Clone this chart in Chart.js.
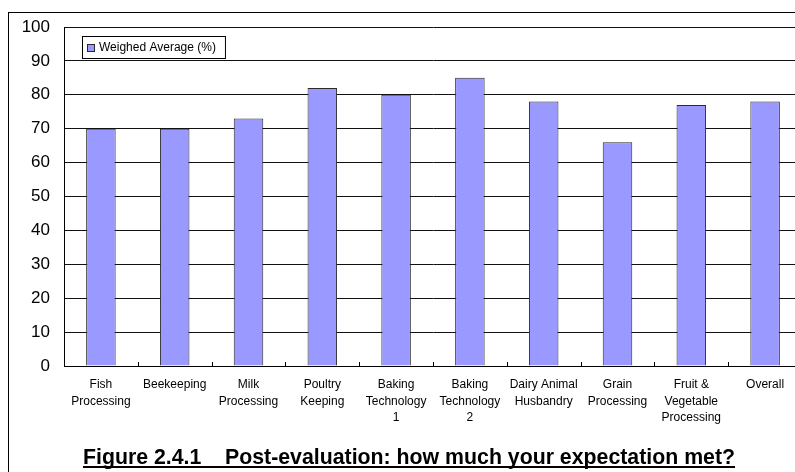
<!DOCTYPE html>
<html>
<head>
<meta charset="utf-8">
<script src="https://cdn.jsdelivr.net/npm/chart.js@4/dist/chart.umd.min.js"></script>
<style>
  html, body { margin: 0; padding: 0; background: #fff; overflow: hidden; }
  #page { position: relative; width: 795px; height: 472px; overflow: hidden; }
  #frame { position: absolute; left: 8px; top: 12px; width: 820px; height: 500px;
           border: 1px solid #000; box-sizing: border-box; }
  #wrap { position: absolute; left: 0; top: 0; width: 810px; height: 472px; }
</style>
</head>
<body>
<div id="page">
  <div id="frame"></div>
  <div id="wrap"><canvas id="c" width="810" height="472"></canvas></div>
</div>
<script>
// Courses evaluated and their weighed average score (%)
const categories = [
  ['Fish', 'Processing'],
  ['Beekeeping'],
  ['Milk', 'Processing'],
  ['Poultry', 'Keeping'],
  ['Baking', 'Technology', '1'],
  ['Baking', 'Technology', '2'],
  ['Dairy Animal', 'Husbandry'],
  ['Grain', 'Processing'],
  ['Fruit &', 'Vegetable', 'Processing'],
  ['Overall']
];
const weighedAverage = [70, 70, 73, 82, 80, 85, 78, 66, 77, 78];
const seriesLabel = 'Weighed Average (%)';
const yTicks = [0, 10, 20, 30, 40, 50, 60, 70, 80, 90, 100];
const figureTitle = 'Figure 2.4.1    Post-evaluation: how much your expectation met?';

const FONT = '"Liberation Sans", Arial, sans-serif';

// Short tick marks on the category axis, pointing up into the plot
const innerTicks = {
  id: 'innerTicks',
  afterDatasetsDraw(chart) {
    const x = chart.scales.x, a = chart.chartArea, ctx = chart.ctx;
    ctx.save();
    ctx.strokeStyle = '#000';
    ctx.lineWidth = 1;
    for (let i = 0; i <= categories.length; i++) {
      const px = Math.round(x.getPixelForValue(i - 0.5)) + 0.5;
      ctx.beginPath();
      ctx.moveTo(px, a.bottom - 4);
      ctx.lineTo(px, a.bottom);
      ctx.stroke();
    }
    ctx.restore();
  }
};

// Boxed legend inside the top-left of the plot
const boxLegend = {
  id: 'boxLegend',
  afterDraw(chart) {
    const ctx = chart.ctx, ds = chart.data.datasets[0];
    const a = chart.chartArea;
    const bx = a.left + 18, by = a.top + 9;
    ctx.save();
    ctx.font = '12px ' + FONT;
    const tw = ctx.measureText(ds.label).width;
    const bw = tw + 26, bh = 22;
    ctx.fillStyle = '#fff';
    ctx.fillRect(bx, by, bw, bh);
    ctx.strokeStyle = '#000';
    ctx.lineWidth = 1;
    ctx.strokeRect(bx + 0.5, by + 0.5, bw, bh);
    ctx.fillStyle = ds.backgroundColor;
    ctx.fillRect(bx + 5, by + 8, 7, 7);
    ctx.strokeStyle = ds.borderColor;
    ctx.strokeRect(bx + 5.5, by + 8.5, 7, 7);
    ctx.fillStyle = '#000';
    ctx.textBaseline = 'middle';
    ctx.fillText(ds.label, bx + 17, by + 12);
    ctx.restore();
  }
};

// Underlined figure caption beneath the axis labels
const caption = {
  id: 'caption',
  afterDraw(chart) {
    const ctx = chart.ctx;
    ctx.save();
    ctx.font = 'bold 21.3px ' + FONT;
    ctx.fillStyle = '#000';
    ctx.textBaseline = 'alphabetic';
    const w = ctx.measureText(figureTitle).width;
    const cx = 409, base = 464;
    const x0 = cx - w / 2;
    ctx.fillText(figureTitle, x0, base);
    ctx.fillRect(x0, base + 2, w, 2);
    ctx.restore();
  }
};

new Chart(document.getElementById('c'), {
  type: 'bar',
  data: {
    labels: categories,
    datasets: [{
      label: seriesLabel,
      data: weighedAverage,
      backgroundColor: '#9999FF',
      borderColor: '#2a2a2a',
      borderWidth: 1,
      barPercentage: 0.4,
      categoryPercentage: 1.0
    }]
  },
  options: {
    responsive: false,
    animation: false,
    layout: { padding: { left: 0, right: 8, top: 27, bottom: 0 } },
    plugins: {
      legend: { display: false },
      tooltip: { enabled: false },
      title: { display: false }
    },
    scales: {
      x: {
        grid: { display: false },
        border: { display: true, color: '#000', width: 1 },
        ticks: {
          color: '#000',
          font: { family: FONT, size: 12, lineHeight: 1.4 },
          maxRotation: 0, minRotation: 0, autoSkip: false, padding: 2
        },
        afterFit(s) { s.height = 106; }
      },
      y: {
        min: 0, max: 100,
        afterBuildTicks(s) { s.ticks = yTicks.map(v => ({ value: v })); },
        grid: { color: '#111', lineWidth: 1, tickLength: 0, drawTicks: false },
        border: { display: true, color: '#000', width: 1 },
        ticks: {
          color: '#000',
          font: { family: FONT, size: 17 },
          padding: 14
        },
        afterFit(s) { s.width = 64; }
      }
    }
  },
  plugins: [innerTicks, boxLegend, caption]
});
</script>
</body>
</html>
